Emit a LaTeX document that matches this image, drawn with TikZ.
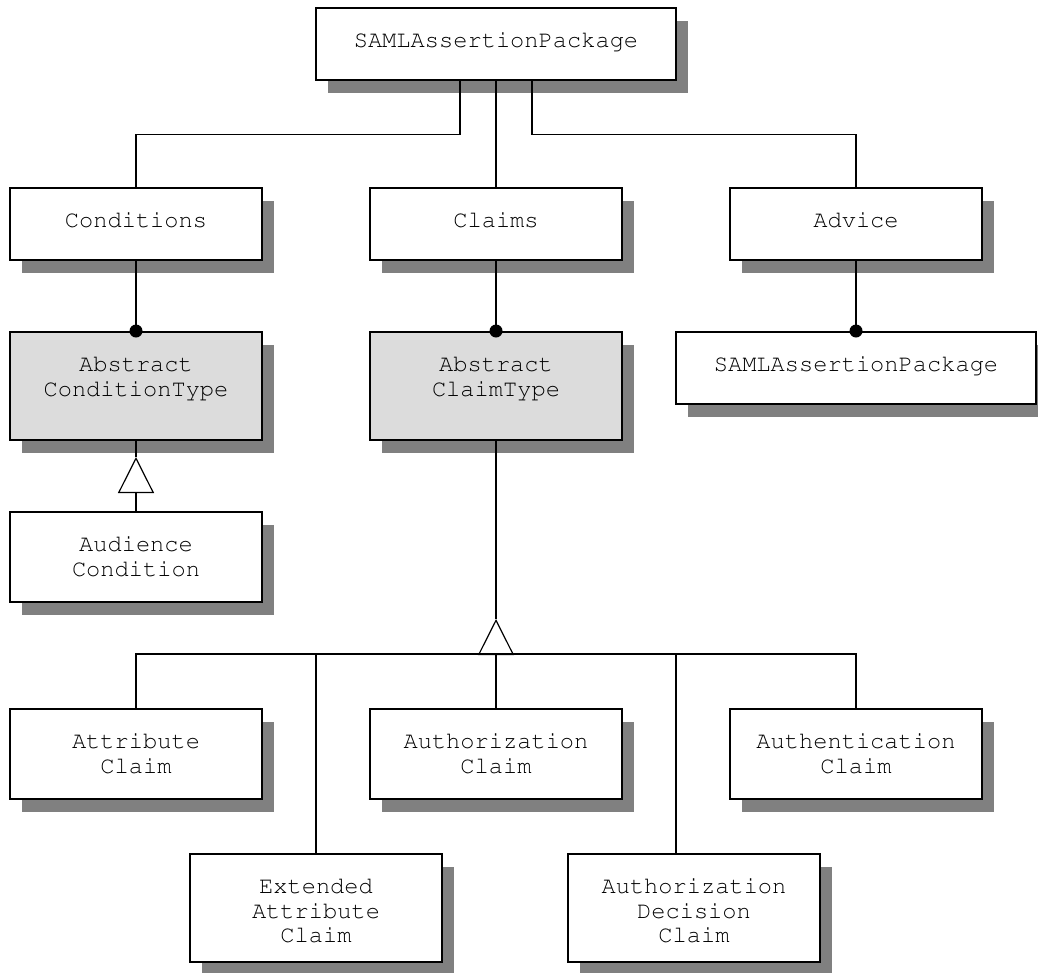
\documentclass[tikz,border=0pt]{standalone}
\usepackage[T1]{fontenc}
\usepackage{courier}
\usetikzlibrary{shadows,arrows.meta}
\definecolor{abstractgray}{HTML}{DCDCDC}
\begin{document}
\begin{tikzpicture}[x=1pt,y=-1pt,
	font=\ttfamily\fontsize{23.7pt}{24.3pt}\selectfont,
	cls/.style={draw,line width=1.5pt,fill=white,anchor=north,inner sep=0pt,
		text width=252pt,align=center,text height=40pt,text depth=32pt,
		drop shadow={shadow xshift=12pt,shadow yshift=-13pt,fill=black!50,opacity=1}},
	wide/.style={text width=360pt},
	abstract/.style={fill=abstractgray},
	mid/.style={text depth=50pt},
	tall/.style={text depth=68pt},
	link/.style={line width=1.2pt},
	dot/.style={fill=black,circle,inner sep=0pt,minimum size=13pt},
	gen/.style={link,-{Triangle[open,length=36pt,width=36pt]}}]
	\useasboundingbox (0,0) rectangle (1038,972);

	%packages
	\node[cls,wide] (pkg) at (496,7) {SAMLAssertionPackage};
	\node[cls] (cond) at (136,187) {Conditions};
	\node[cls] (claims) at (496,187) {Claims};
	\node[cls] (advice) at (856,187) {Advice};

	%abstract types
	\node[cls,abstract,tall] (abscond) at (136,331) {Abstract\\ConditionType};
	\node[cls,abstract,tall] (absclaim) at (496,331) {Abstract\\ClaimType};
	\node[cls,wide] (advpkg) at (856,331) {SAMLAssertionPackage};

	%concrete types
	\node[cls,mid] (aud) at (136,511) {Audience\\Condition};
	\node[cls,mid] (attr) at (136,708) {Attribute\\Claim};
	\node[cls,mid] (authz) at (496,708) {Authorization\\Claim};
	\node[cls,mid] (authn) at (856,708) {Authentication\\Claim};
	\node[cls,tall] (ext) at (316,853) {Extended\\Attribute\\Claim};
	\node[cls,tall] (adec) at (694,853) {Authorization\\Decision\\Claim};

	%package tree
	\draw[link] ([xshift=-36pt]pkg.south) -- ++(0,54) -| (cond.north);
	\draw[link] (pkg.south) -- (claims.north);
	\draw[link] ([xshift=36pt]pkg.south) -- ++(0,54) -| (advice.north);

	%aggregations
	\draw[link] (cond.south) -- (abscond.north);
	\draw[link] (claims.south) -- (absclaim.north);
	\draw[link] (advice.south) -- (advpkg.north);
	\node[dot] (d1) at (abscond.north) {};
	\node[dot] (d2) at (absclaim.north) {};
	\node[dot] (d3) at (advpkg.north) {};

	%generalizations
	\coordinate (g1) at (136,457);
	\draw[link] (abscond.south) -- (g1);
	\draw[gen] (aud.north) -- (g1);

	\coordinate (g2) at (496,619);
	\coordinate (bus) at (496,654);
	\coordinate (adtop) at ([xshift=-18pt]adec.north);
	\draw[link] (absclaim.south) -- (g2);
	\draw[link] (attr.north) -- ++(0,-54) -| (authn.north);
	\draw[link] (ext.north) -- (ext.north |- bus);
	\draw[link] (adtop) -- (adtop |- bus);
	\draw[gen] (authz.north) -- (g2);
\end{tikzpicture}
\end{document}
